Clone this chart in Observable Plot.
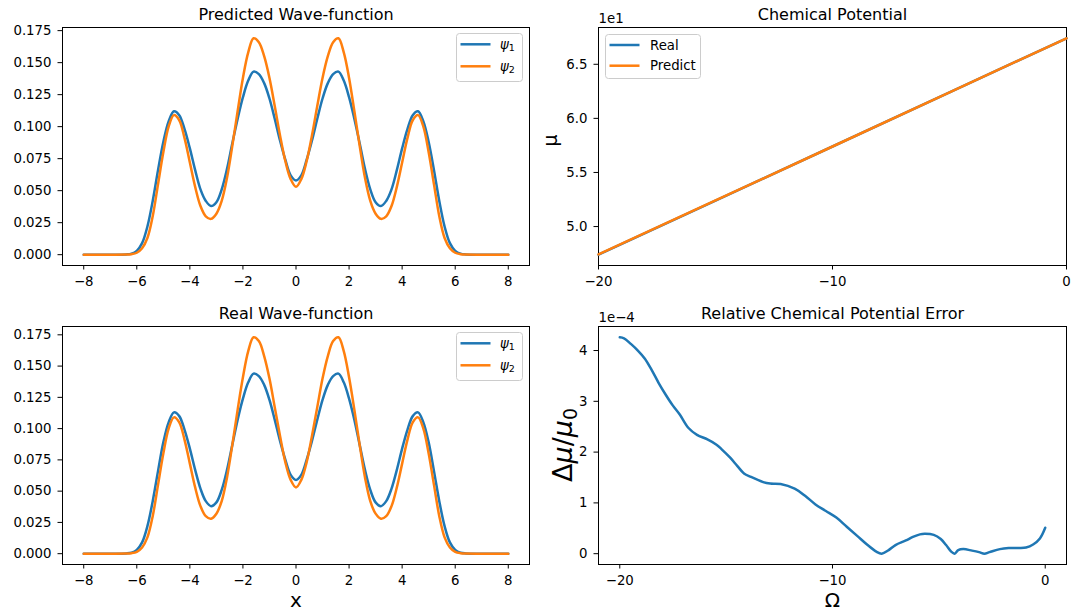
<!DOCTYPE html>
<html><head><meta charset="utf-8">
<script src="https://cdn.jsdelivr.net/npm/d3@7"></script>
<script src="https://cdn.jsdelivr.net/npm/@observablehq/plot@0.6"></script>
<style>
body{margin:0;background:#fff;}
#fig{position:relative;width:1086px;height:615px;overflow:hidden;font-family:"DejaVu Sans",sans-serif;}
</style></head>
<body><div id="fig"></div>
<script>
// ---------- data ----------
const xGrid = [-8,-7,-6.4,-6.2,-6,-5.8,-5.6,-5.4,-5.2,-5,-4.8,-4.6,-4.4,-4.2,-4,-3.8,-3.6,-3.4,-3.2,-3,-2.8,-2.6,-2.4,-2.2,-2,-1.8,-1.6,-1.4,-1.2,-1,-0.8,-0.6,-0.4,-0.2,0,
  0.2,0.4,0.6,0.8,1,1.2,1.4,1.6,1.8,2,2.2,2.4,2.6,2.8,3,3.2,3.4,3.6,3.8,4,4.2,4.4,4.6,4.8,5,5.2,5.4,5.6,5.8,6,6.2,6.4,7,8];

const predPsi1 = [0,0,0.0002,0.0008,0.003,0.009,0.022,0.042,0.066,0.088,0.104,0.112,0.109,0.098,0.083,0.066,0.051,0.042,0.038,0.041,0.051,0.067,0.087,0.106,0.123,0.136,0.143,0.141,0.134,0.122,0.106,0.089,0.074,0.062,0.058,
  0.062,0.074,0.089,0.106,0.122,0.134,0.141,0.143,0.136,0.123,0.106,0.087,0.067,0.051,0.041,0.038,0.042,0.051,0.066,0.083,0.098,0.109,0.112,0.104,0.088,0.066,0.042,0.022,0.009,0.003,0.0008,0.0002,0,0];
const predPsi2 = [0,0,0.0001,0.0004,0.0015,0.005,0.013,0.030,0.055,0.080,0.100,0.109,0.105,0.091,0.072,0.053,0.038,0.030,0.028,0.032,0.042,0.060,0.085,0.112,0.138,0.158,0.169,0.166,0.155,0.138,0.116,0.093,0.073,0.059,0.053,
  0.059,0.073,0.093,0.116,0.138,0.155,0.166,0.169,0.158,0.138,0.112,0.085,0.060,0.042,0.032,0.028,0.030,0.038,0.053,0.072,0.091,0.105,0.109,0.100,0.080,0.055,0.030,0.013,0.005,0.0015,0.0004,0.0001,0,0];

const realPsi1 = [0,0,0.0002,0.0008,0.003,0.009,0.022,0.042,0.066,0.089,0.105,0.113,0.110,0.099,0.084,0.067,0.052,0.042,0.038,0.041,0.051,0.067,0.087,0.107,0.124,0.137,0.144,0.142,0.135,0.123,0.107,0.090,0.075,0.063,0.059,
  0.063,0.075,0.090,0.107,0.123,0.135,0.142,0.144,0.137,0.124,0.107,0.087,0.067,0.051,0.041,0.038,0.042,0.052,0.067,0.084,0.099,0.110,0.113,0.105,0.089,0.066,0.042,0.022,0.009,0.003,0.0008,0.0002,0,0];
const realPsi2 = [0,0,0.0001,0.0004,0.0015,0.005,0.013,0.030,0.055,0.080,0.100,0.109,0.105,0.091,0.072,0.053,0.038,0.030,0.028,0.032,0.042,0.061,0.087,0.115,0.141,0.162,0.173,0.170,0.158,0.140,0.117,0.094,0.073,0.059,0.053,
  0.059,0.073,0.094,0.117,0.140,0.158,0.170,0.173,0.162,0.141,0.115,0.087,0.061,0.042,0.032,0.028,0.030,0.038,0.053,0.072,0.091,0.105,0.109,0.100,0.080,0.055,0.030,0.013,0.005,0.0015,0.0004,0.0001,0,0];

const omegaMu = [-20,-15,-10,-5,0];
const muReal = [47.40,52.40,57.40,62.40,67.40];
const muPredict = [47.42,52.41,57.40,62.40,67.40];

const omegaErr = [-20,-19.8,-19.48,-19.15,-18.82,-18.49,-18.17,-17.84,-17.51,-17.18,-16.78,-16.37,-15.88,-15.47,-15.22,-14.81,-14.48,-14.16,-13.83,-13.26,-12.93,-12.44,-11.78,-11.29,-10.8,-10.31,-9.82,-9.33,-8.84,-8.35,-7.94,-7.69,-7.36,-7.04,-6.55,-6.22,-5.89,-5.65,-5.24,-4.91,-4.66,-4.42,-4.26,-4.09,-3.85,-3.44,-3.11,-2.86,-2.62,-2.13,-1.72,-1.23,-0.9,-0.57,-0.25,0];
// relative error in units of 1e-4
const relErr = [4.26,4.24,4.13,4.0,3.84,3.61,3.36,3.13,2.92,2.74,2.48,2.34,2.25,2.15,2.06,1.89,1.73,1.58,1.51,1.41,1.38,1.37,1.28,1.14,0.97,0.84,0.71,0.53,0.35,0.17,0.04,0.0,0.07,0.17,0.26,0.33,0.38,0.39,0.37,0.29,0.17,0.04,0.0,0.07,0.09,0.06,0.03,0.0,0.03,0.09,0.11,0.11,0.12,0.18,0.30,0.51];

const waveTicksX = [-8,-6,-4,-2,0,2,4,6,8];
const waveTicksY = [0,0.025,0.05,0.075,0.1,0.125,0.15,0.175];
const muTicksX = [-20,-10,0];
const muTicksY = [50,55,60,65];
const errTicksY = [0,1,2,3,4];

const BLUE = "#1f77b4", ORANGE = "#ff7f0e";
const LW = 2.5;
// ---------- helpers ----------
const fig = document.getElementById("fig");
function pad(vals){const lo=d3.min(vals),hi=d3.max(vals),r=hi-lo;return [lo-0.05*r,hi+0.05*r];}
function series(xs, ys){return xs.map((x,i)=>({x, y: ys[i]}));}

function panel(o){
  const marks = [
    Plot.frame({stroke:"#000", strokeWidth:1}),
    Plot.axisX({ticks:o.xTicks, tickFormat:o.xFmt, tickSize:4.5, tickPadding:7, label:null}),
    Plot.axisY({ticks:o.yTicks, tickFormat:o.yFmt, tickSize:4.5, tickPadding:6.5, label:null}),
    ...o.marks,
    Plot.text([o.title], {frameAnchor:"top", dy:-13, lineAnchor:"middle", fontSize:16})
  ];
  if (o.offset) marks.push(Plot.text([o.offset], {frameAnchor:"top-left", dy:-8.5, textAnchor:"start", lineAnchor:"middle"}));
  if (o.xLabel) marks.push(Plot.text([o.xLabel], {frameAnchor:"bottom", dy:36, lineAnchor:"middle", fontSize:20}));
  const chart = Plot.plot({
    width:o.width, height:o.height,
    marginTop:o.mt, marginRight:o.mr, marginBottom:o.mb, marginLeft:o.ml,
    style:{fontFamily:"DejaVu Sans, sans-serif", fontSize:"13.3px", color:"#000", background:"transparent", overflow:"visible"},
    x:{domain:o.xDomain, label:null},
    y:{domain:o.yDomain, label:null},
    marks
  });
  chart.style.position="absolute"; chart.style.left=o.left+"px"; chart.style.top=o.top+"px";
  fig.appendChild(chart);
  return chart;
}

function legend(left, top, w, h, items, textX, rowY){
  const svg = d3.select(fig).append("svg")
    .style("position","absolute").style("left",left+"px").style("top",top+"px")
    .attr("width",w+2).attr("height",h+2);
  svg.append("rect").attr("x",0.5).attr("y",0.5).attr("width",w).attr("height",h).attr("rx",3)
    .attr("fill","rgba(255,255,255,0.8)").attr("stroke","#cccccc").attr("stroke-width",1);
  items.forEach((it,i)=>{
    const y = rowY[i];
    svg.append("line").attr("x1",4.5).attr("x2",34.5).attr("y1",y).attr("y2",y).attr("stroke",it.color).attr("stroke-width",LW);
    const t = svg.append("text").attr("x",textX).attr("y",y+4.6).attr("font-family","DejaVu Sans, sans-serif").attr("font-size",13.3).attr("fill","#000");
    if (it.sub){
      t.append("tspan").attr("font-style","italic").text(it.label);
      t.append("tspan").attr("dy",2.5).attr("font-size",9.5).text(it.sub);
    } else t.text(it.label);
  });
}

// ---------- panels ----------
const waveYPred = pad(predPsi1.concat(predPsi2));
const waveYReal = pad(realPsi1.concat(realPsi2));
const waveX = pad(xGrid);
const fmt3 = d3.format(".3f"), fmtD = d3.format("d");

panel({left:0, top:0, width:540, height:295, mt:27, mr:11, mb:30, ml:62,
  xDomain:waveX, yDomain:waveYPred, xTicks:waveTicksX, yTicks:waveTicksY, xFmt:fmtD, yFmt:fmt3,
  title:"Predicted Wave-function",
  marks:[
    Plot.line(series(xGrid,predPsi1), {x:"x", y:"y", stroke:BLUE, strokeWidth:LW, curve:"catmull-rom"}),
    Plot.line(series(xGrid,predPsi2), {x:"x", y:"y", stroke:ORANGE, strokeWidth:LW, curve:"catmull-rom"})
  ]});

panel({left:540, top:0, width:546, height:295, mt:27, mr:20, mb:30, ml:58,
  xDomain:[-20,0], yDomain:pad(muReal.concat(muPredict)), xTicks:muTicksX, yTicks:muTicksY, xFmt:fmtD, yFmt:d=>d3.format(".1f")(d/10),
  title:"Chemical Potential", offset:"1e1",
  marks:[
    Plot.line(series(omegaMu,muReal), {x:"x", y:"y", stroke:BLUE, strokeWidth:LW}),
    Plot.line(series(omegaMu,muPredict), {x:"x", y:"y", stroke:ORANGE, strokeWidth:LW}),
    Plot.text(["μ"], {frameAnchor:"left", dx:-47.5, rotate:-90, lineAnchor:"middle", fontSize:19})
  ]});

panel({left:0, top:295, width:540, height:320, mt:31, mr:11, mb:51, ml:62,
  xDomain:waveX, yDomain:waveYReal, xTicks:waveTicksX, yTicks:waveTicksY, xFmt:fmtD, yFmt:fmt3,
  title:"Real Wave-function", xLabel:"x",
  marks:[
    Plot.line(series(xGrid,realPsi1), {x:"x", y:"y", stroke:BLUE, strokeWidth:LW, curve:"catmull-rom"}),
    Plot.line(series(xGrid,realPsi2), {x:"x", y:"y", stroke:ORANGE, strokeWidth:LW, curve:"catmull-rom"})
  ]});

const br = panel({left:540, top:295, width:546, height:320, mt:31, mr:20, mb:51, ml:58,
  xDomain:pad(omegaErr), yDomain:pad(relErr), xTicks:muTicksX, yTicks:errTicksY, xFmt:fmtD, yFmt:fmtD,
  title:"Relative Chemical Potential Error", offset:"1e\u22124", xLabel:"Ω",
  marks:[
    Plot.line(series(omegaErr,relErr), {x:"x", y:"y", stroke:BLUE, strokeWidth:LW, curve:"catmull-rom"})
  ]});

// y label with math formatting for the error panel
{
  const t = d3.select(br).append("text")
    .attr("transform", `translate(${562.6-540},${(31+320-51)/2}) rotate(-90)`)
    .attr("text-anchor","middle").attr("dy","0.35em")
    .attr("font-family","DejaVu Sans, sans-serif").attr("font-size",27).attr("fill","#000");
  t.append("tspan").text("Δ");
  t.append("tspan").attr("font-style","italic").text("μ");
  t.append("tspan").text("/");
  t.append("tspan").attr("font-style","italic").text("μ");
  t.append("tspan").attr("font-size",19).attr("dy",5).text("0");
}

// ---------- legends ----------
const psiItems = [{label:"ψ", sub:"1", color:BLUE},{label:"ψ", sub:"2", color:ORANGE}];
legend(456, 33, 66, 48, psiItems, 44, [11.3, 33.3]);
legend(456, 332, 66, 48, psiItems, 44, [11.3, 33.3]);
legend(605, 34, 95, 44, [{label:"Real", color:BLUE},{label:"Predict", color:ORANGE}], 45, [11, 31.7]);
</script>
</body></html>
